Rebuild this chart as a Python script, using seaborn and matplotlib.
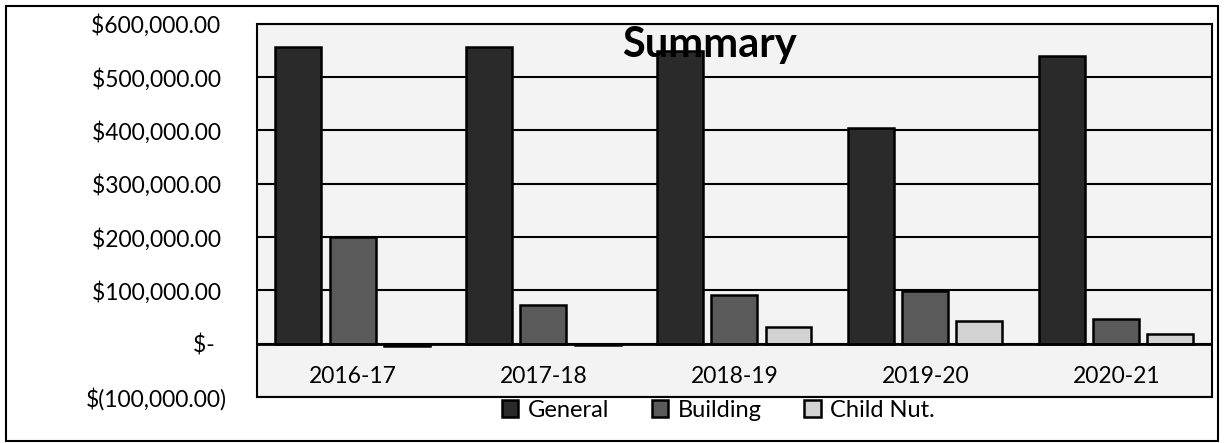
import pandas as pd
import matplotlib.pyplot as plt
import seaborn as sns
from matplotlib.patches import Rectangle

# dados do gráfico
anos = ["2016-17", "2017-18", "2018-19", "2019-20", "2020-21"]
general = [556000, 556000, 550000, 404000, 539000]
building = [201000, 73000, 92000, 99000, 47000]
child_nut = [-5000, -3000, 32000, 43000, 19000]
series = ["General", "Building", "Child Nut."]
y_ticks = [-100000, 0, 100000, 200000, 300000, 400000, 500000, 600000]
y_labels = ["$(100,000.00)", "$-  ", "$100,000.00 ", "$200,000.00 ", "$300,000.00 ",
            "$400,000.00 ", "$500,000.00 ", "$600,000.00 "]

df = pd.DataFrame({
    "Ano": anos * 3,
    "Valor": general + building + child_nut,
    "Fundo": [s for s in series for _ in anos],
})

sns.set_style("white")
plt.rcParams['font.family'] = ['Lato', 'DejaVu Sans']
plt.rcParams['text.color'] = 'black'
plt.rcParams['xtick.color'] = 'black'
plt.rcParams['ytick.color'] = 'black'

fig = plt.figure(figsize=(12.24, 4.43), dpi=100)
ax = fig.add_axes([0.21, 0.104, 0.780, 0.842])
ax.set_facecolor("#f3f3f3")

cores = ["#2a2a2a", "#5a5a5a", "#d2d2d2"]
sns.barplot(data=df, x="Ano", y="Valor", hue="Fundo", palette=cores, ax=ax,
            width=0.85, gap=0.15, edgecolor="black", linewidth=1.8, zorder=3)

ax.set_ylim(-100000, 600000)
ax.set_yticks(y_ticks)
ax.set_yticklabels(y_labels, fontsize=16.5)
ax.yaxis.grid(True, color="black", linewidth=1.5, zorder=1)
ax.set_axisbelow(True)
ax.axhline(0, color="black", linewidth=2, zorder=4)
ax.set_xlabel("")
ax.set_ylabel("")
ax.tick_params(axis="x", length=0, pad=-22, labelsize=16.5)
ax.tick_params(axis="y", length=0, pad=22)
for s in ax.spines.values():
    s.set_color("black")
    s.set_linewidth(1.5)

ax.text(0.474, 0.944, "Summary", transform=ax.transAxes, ha="center", va="center",
        fontsize=30, fontweight="bold", color="black", zorder=10)

handles, labels = ax.get_legend_handles_labels()
ax.get_legend().remove()
fig.legend(handles, labels, loc="center", bbox_to_anchor=(0.587, 0.074), ncol=3,
           frameon=False, fontsize=17, handlelength=0.7, handleheight=0.7,
           handletextpad=0.4, columnspacing=1.8)

# moldura externa do gráfico
fig.patches.append(Rectangle((0.005, 0.004), 0.99, 0.982, transform=fig.transFigure,
                             fill=False, edgecolor="black", linewidth=1.5))

plt.savefig("out.png", dpi=100)
